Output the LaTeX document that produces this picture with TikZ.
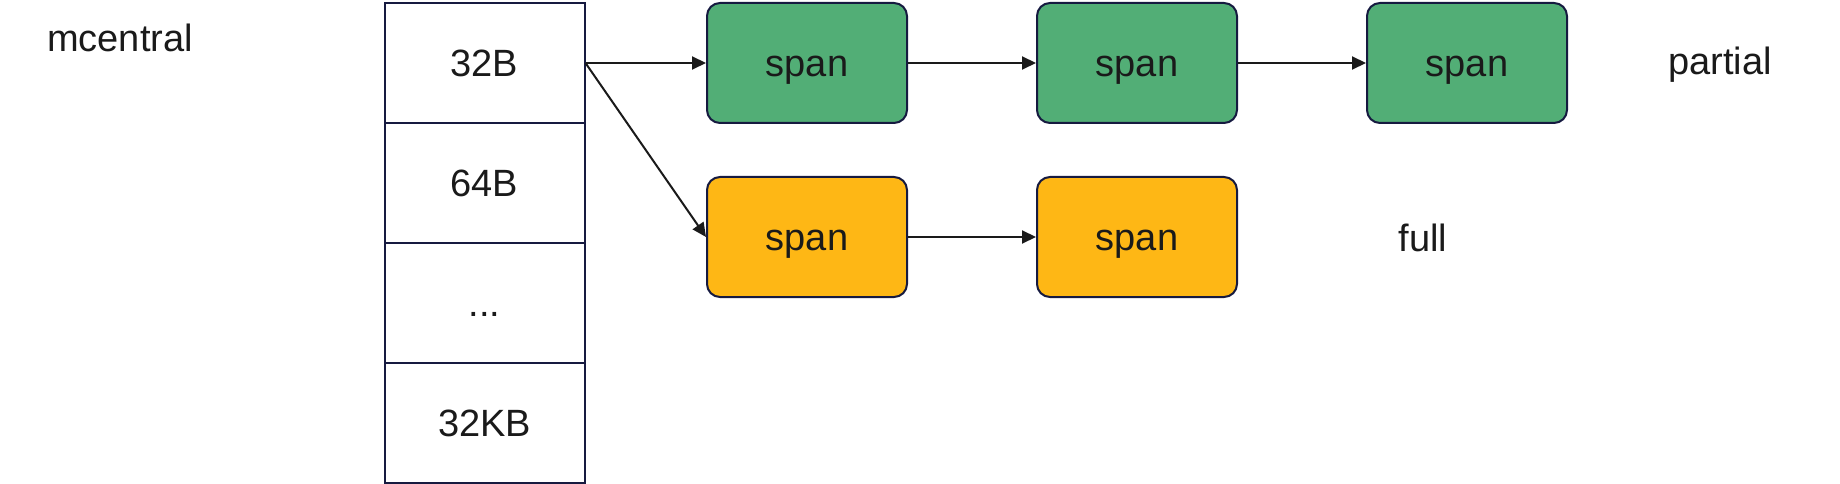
\documentclass[tikz,border=0pt]{standalone}
\usepackage{fontspec}
\setmainfont{Liberation Sans}
\usetikzlibrary{arrows.meta}
\definecolor{spgreen}{RGB}{82,174,118}
\definecolor{sporange}{RGB}{254,183,21}
\definecolor{navy}{RGB}{22,26,64}
\definecolor{ink}{RGB}{26,26,26}
\begin{document}
\begin{tikzpicture}[x=1pt,y=-1pt,
  every node/.style={font=\fontsize{38}{46}\selectfont, text=ink, text height=27pt, text depth=0pt},
  cell/.style={draw=navy, line width=2pt, fill=white, minimum width=200pt, minimum height=120pt, inner sep=0pt},
  spanbox/.style={draw=navy, line width=2pt, rounded corners=13pt, minimum width=200pt, minimum height=120pt, inner sep=0pt},
  greenspan/.style={spanbox, fill=spgreen},
  orangespan/.style={spanbox, fill=sporange},
  arr/.style={draw=ink, line width=2pt, -{Triangle[length=14pt,width=13pt]}},
  lbl/.style={inner sep=0pt}]
\useasboundingbox (0,0) rectangle (1840,484);
\node[lbl] (title) at (120,38.5) {mcentral};
\node[cell] (c1) at (484.5,63) {32B};
\node[cell] (c2) at (484.5,183) {64B};
\node[cell] (c3) at (484.5,303) {...};
\node[cell] (c4) at (484.5,423) {32KB};
\node[greenspan] (g1) at (807,63) {span};
\node[greenspan] (g2) at (1137,63) {span};
\node[greenspan] (g3) at (1467,63) {span};
\node[orangespan] (o1) at (807,237) {span};
\node[orangespan] (o2) at (1137,237) {span};
\node[lbl] (partial) at (1720,61.5) {partial};
\node[lbl] (full) at (1423,237.5) {full};
\draw[arr] (c1.east) -- (g1.west);
\draw[arr] (c1.east) -- (o1.west);
\draw[arr] (g1.east) -- (g2.west);
\draw[arr] (g2.east) -- (g3.west);
\draw[arr] (o1.east) -- (o2.west);
\end{tikzpicture}
\end{document}
